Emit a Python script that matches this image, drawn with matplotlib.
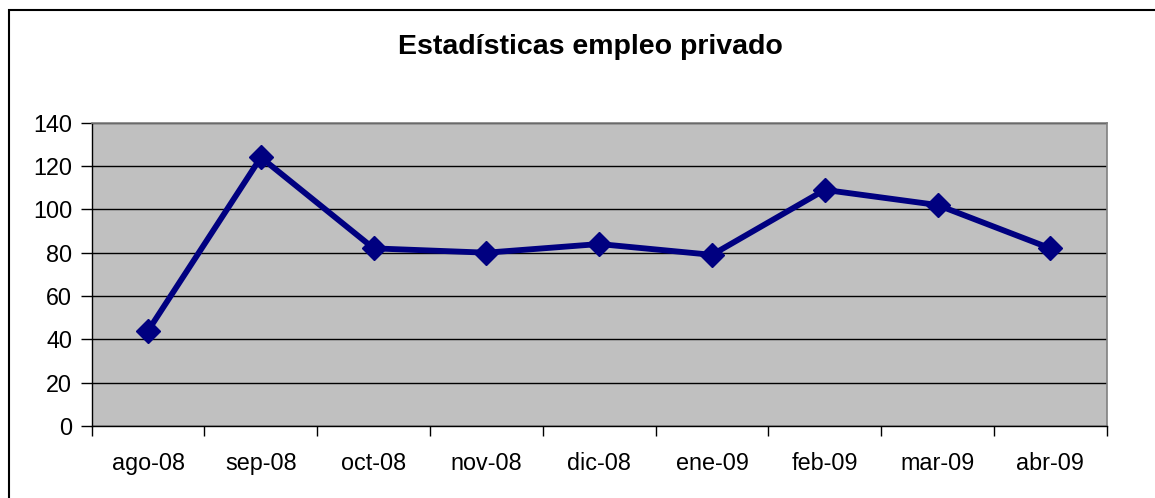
import matplotlib.pyplot as plt
from matplotlib.patches import Rectangle

plt.rcParams['font.family'] = ['Liberation Sans', 'DejaVu Sans']

months = ["ago-08", "sep-08", "oct-08", "nov-08", "dic-08",
          "ene-09", "feb-09", "mar-09", "abr-09"]
empleo = [44, 124, 82, 80, 84, 79, 109, 102, 82]
y_ticks = [0, 20, 40, 60, 80, 100, 120, 140]

fig = plt.figure(figsize=(11.55, 4.98), dpi=100)
fig.patch.set_facecolor("white")

# outer chart frame
fig.add_artist(Rectangle((9 / 1155, -0.05), 1.2, 1 - 10 / 498 + 0.05,
                         transform=fig.transFigure, fill=False,
                         edgecolor="black", linewidth=1.5))

ax = fig.add_axes([0.0794, 0.1446, 0.8788, 0.609])
ax.set_facecolor("#C0C0C0")

x = list(range(len(months)))
ax.plot(x, empleo, color="#000080", linewidth=4.2, marker="D",
        markersize=12.5, zorder=3)

ax.set_xlim(-0.5, len(months) - 0.5)
ax.set_ylim(0, 140)
ax.set_yticks(y_ticks)
ax.set_yticklabels([str(v) for v in y_ticks], fontsize=16.8)

# category labels centred, tick marks between categories
ax.set_xticks([i - 0.5 for i in range(len(months) + 1)])
ax.set_xticklabels([])
ax.set_xticks(x, minor=True)
ax.set_xticklabels(months, minor=True, fontsize=16.8)
ax.tick_params(axis="x", which="minor", length=0, pad=19)
ax.tick_params(axis="x", which="major", length=7, width=1, direction="out")
ax.tick_params(axis="y", length=8, width=1, direction="out", pad=6)

ax.grid(axis="y", color="black", linewidth=1)
ax.set_axisbelow(True)

for side in ["top", "right"]:
    ax.spines[side].set_color("#808080")
    ax.spines[side].set_linewidth(1.2)
for side in ["left", "bottom"]:
    ax.spines[side].set_color("black")
    ax.spines[side].set_linewidth(1)

fig.text(590 / 1155, 1 - 47 / 498, "Estadísticas empleo privado",
         ha="center", va="center", fontsize=20.5, fontweight="bold")

fig.savefig("out.png", dpi=100)
